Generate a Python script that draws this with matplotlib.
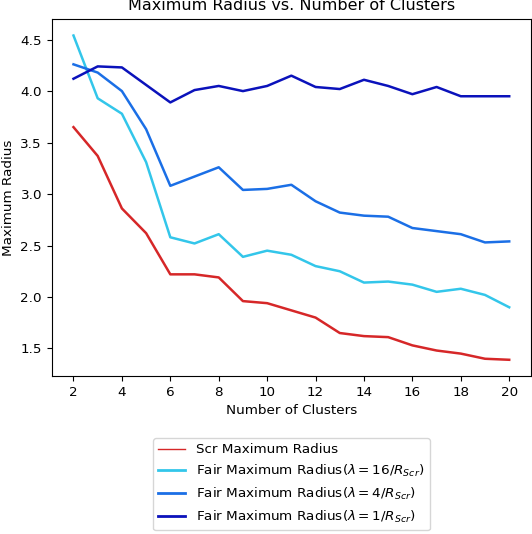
import matplotlib
matplotlib.use("Agg")
import matplotlib.pyplot as plt
from matplotlib.lines import Line2D

clusters = list(range(2, 21))
scr_radius = [3.65, 3.37, 2.86, 2.62, 2.22, 2.22, 2.19, 1.96, 1.94, 1.87, 1.80,
              1.65, 1.62, 1.61, 1.53, 1.48, 1.45, 1.40, 1.39]
fair_16 = [4.54, 3.93, 3.78, 3.31, 2.58, 2.52, 2.61, 2.39, 2.45, 2.41, 2.30,
           2.25, 2.14, 2.15, 2.12, 2.05, 2.08, 2.02, 1.90]
fair_4 = [4.26, 4.18, 4.00, 3.63, 3.08, 3.17, 3.26, 3.04, 3.05, 3.09, 2.93,
          2.82, 2.79, 2.78, 2.67, 2.64, 2.61, 2.53, 2.54]
fair_1 = [4.12, 4.24, 4.23, 4.06, 3.89, 4.01, 4.05, 4.00, 4.05, 4.15, 4.04,
          4.02, 4.11, 4.05, 3.97, 4.04, 3.95, 3.95, 3.95]

labels = ["Scr Maximum Radius",
          r"Fair Maximum Radius($\lambda = 16/R_{Scr}$)",
          r"Fair Maximum Radius($\lambda = 4/R_{Scr}$)",
          r"Fair Maximum Radius($\lambda = 1/R_{Scr}$)"]
colors = ["#d62728", "#33c6ea", "#1b6fe6", "#0b12bb"]

plt.rcParams["font.size"] = 9.7

W, H = 532, 534
fig = plt.figure(figsize=(W / 100, H / 100), dpi=100)
ax = fig.add_axes([51.7 / W, (H - 376) / H, (531 - 51.7) / W, (376 - 19.3) / H])

series = [scr_radius, fair_16, fair_4, fair_1]
for s, c in zip(series, colors):
    ax.plot(clusters, s, color=c, linewidth=1.8)

ax.set_xticks(range(2, 21, 2))
ax.set_yticks([1.5, 2.0, 2.5, 3.0, 3.5, 4.0, 4.5])
ax.set_xlabel("Number of Clusters")
ax.set_ylabel("Maximum Radius")
ax.set_title("Maximum Radius vs. Number of Clusters", pad=7, fontsize=11.5)

handles = [Line2D([], [], color=colors[0], linewidth=1)] + \
          [Line2D([], [], color=c, linewidth=2) for c in colors[1:]]
ax.legend(handles, labels, loc="upper center", bbox_to_anchor=(0.5, -0.155),
          frameon=True)

fig.savefig("out.png", dpi=100)
